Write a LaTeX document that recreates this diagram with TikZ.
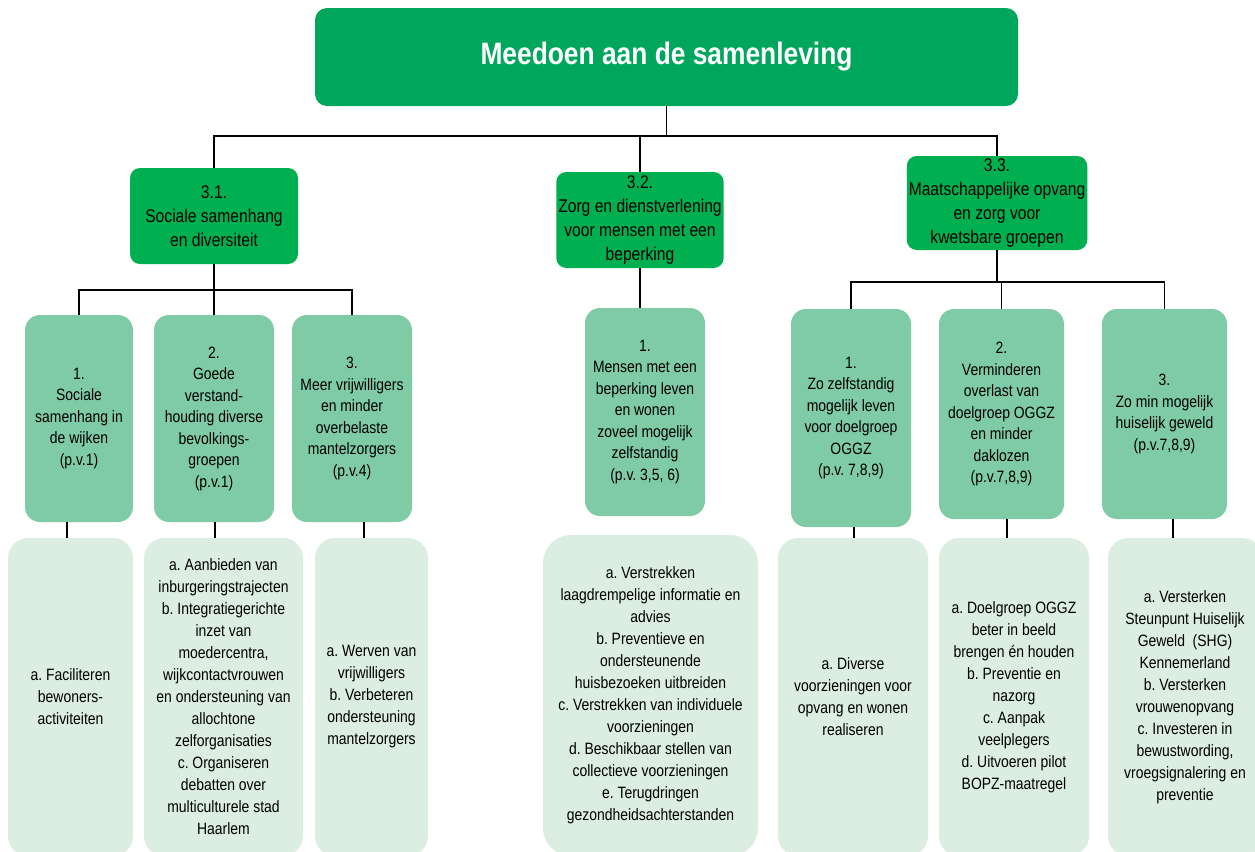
\documentclass[tikz,border=0pt]{standalone}
\usepackage{fontspec}
\setmainfont{Liberation Sans}[FakeStretch=0.85]
\frenchspacing
\definecolor{topgreen}{RGB}{0,166,92}
\definecolor{themegreen}{RGB}{0,176,80}
\definecolor{goalgreen}{RGB}{127,203,165}
\definecolor{actgreen}{RGB}{220,237,225}
\begin{document}
\begin{tikzpicture}[x=.5pt, y=-.5pt,
  topbox/.style={fill=topgreen, rounded corners=6pt, inner sep=0pt, text=white,
    font=\fontsize{15.5}{18}\selectfont\bfseries, minimum width=351.5pt, minimum height=49pt},
  themebox/.style={fill=themegreen, rounded corners=5pt, align=center, inner sep=1pt,
    font=\fontsize{9.2}{12}\selectfont},
  goalbox/.style={fill=goalgreen, rounded corners=7.5pt, align=center, inner sep=1pt,
    font=\fontsize{8.2}{10.75}\selectfont},
  actbox/.style={fill=actgreen, rounded corners=10pt, align=center, inner sep=1pt,
    font=\fontsize{8.2}{11}\selectfont, minimum height=159pt},
  link/.style={line width=.6pt}]
  \useasboundingbox (0,0) rectangle (1255,852);
  \clip (0,0) rectangle (1255,852);

  \node[topbox] (top) at (666.5,57) {Meedoen aan de samenleving};

  % thema's
  \node[themebox, minimum width=84pt, minimum height=48pt] (s31) at (214,216) {3.1.\\Sociale samenhang\\en diversiteit};
  \node[themebox, minimum width=83pt, minimum height=48pt] (s32) at (640,220) {3.2.\\Zorg en dienstverlening\\voor mensen met een\\beperking};
  \node[themebox, minimum width=90pt, minimum height=47pt] (s33) at (997,203) {3.3.\\Maatschappelijke opvang\\en zorg voor\\kwetsbare groepen};

  % doelen
  \node[goalbox, minimum width=54pt, minimum height=103.5pt] (sam) at (79,418.5) {1.\\Sociale\\samenhang in\\de wijken\\(p.v.1)};
  \node[goalbox, minimum width=60pt, minimum height=103.5pt] (vst) at (214,418.5) {2.\\Goede\\verstand-\\houding diverse\\bevolkings-\\groepen\\(p.v.1)};
  \node[goalbox, minimum width=60pt, minimum height=103.5pt] (vri) at (352,418.5) {3.\\Meer vrijwilligers\\en minder\\overbelaste\\mantelzorgers\\(p.v.4)};
  \node[goalbox, minimum width=60pt, minimum height=104pt] (zel) at (645,412) {1.\\Mensen met een\\beperking leven\\en wonen\\zoveel mogelijk\\zelfstandig\\(p.v. 3,5, 6)};
  \node[goalbox, minimum width=60pt, minimum height=109pt] (ogg) at (851,418) {1.\\Zo zelfstandig\\mogelijk leven\\voor doelgroep\\OGGZ\\(p.v. 7,8,9)};
  \node[goalbox, minimum width=62.5pt, minimum height=105pt] (ovl) at (1001.5,414) {2.\\Verminderen\\overlast van\\doelgroep OGGZ\\en minder\\daklozen\\(p.v.7,8,9)};
  \node[goalbox, minimum width=62.5pt, minimum height=105pt] (gew) at (1164.5,414) {3.\\Zo min mogelijk\\huiselijk geweld\\(p.v.7,8,9)};

  % acties
  \node[actbox, minimum width=62.5pt] (fac) at (70.5,697) {a. Faciliteren\\bewoners-\\activiteiten};
  \node[actbox, minimum width=79.5pt] (inb) at (223.5,697) {a. Aanbieden van\\inburgeringstrajecten\\b. Integratiegerichte\\inzet van\\moedercentra,\\wijkcontactvrouwen\\en ondersteuning van\\allochtone\\zelforganisaties\\c. Organiseren\\debatten over\\multiculturele stad\\Haarlem};
  \node[actbox, minimum width=56.5pt] (wrv) at (371.5,697) {a. Werven van\\vrijwilligers\\b. Verbeteren\\ondersteuning\\mantelzorgers};
  \node[actbox, minimum width=107.5pt, minimum height=160.5pt, rounded corners=14pt] (vzg) at (650.5,695.5) {a. Verstrekken\\laagdrempelige informatie en\\advies\\b. Preventieve en\\ondersteunende\\huisbezoeken uitbreiden\\c. Verstrekken van individuele\\voorzieningen\\d. Beschikbaar stellen van\\collectieve voorzieningen\\e. Terugdringen\\gezondheidsachterstanden};
  \node[actbox, minimum width=75pt] (dvs) at (853,697) {a. Diverse\\voorzieningen voor\\opvang en wonen\\realiseren};
  \node[actbox, minimum width=75pt] (dgr) at (1014,697) {a. Doelgroep OGGZ\\beter in beeld\\brengen én houden\\b. Preventie en\\nazorg\\c. Aanpak\\veelplegers\\d. Uitvoeren pilot\\BOPZ-maatregel};
  \node[actbox, minimum width=77pt] (shg) at (1185,697) {a. Versterken\\Steunpunt Huiselijk\\Geweld~ (SHG)\\Kennemerland\\b. Versterken\\vrouwenopvang\\c. Investeren in\\bewustwording,\\vroegsignalering en\\preventie};

  % verbindingen
  \coordinate (bus) at (0,136);
  \coordinate (bus1) at (0,290);
  \coordinate (bus3) at (0,282);
  \draw[link] (top.south) -- (top.south |- bus);
  \draw[link] (s31.north) -- (s31.north |- bus) -- (s33.north |- bus) -- (s33.north);
  \draw[link] (s32.north) -- (s32.north |- bus);

  \draw[link] (s31.south) -- (s31.south |- bus1);
  \draw[link] (sam.north) -- (sam.north |- bus1) -- (vri.north |- bus1) -- (vri.north);
  \draw[link] (vst.north) -- (vst.north |- bus1);

  \draw[link] (s32.south) -- (s32.south |- zel.north);

  \draw[link] (s33.south) -- (s33.south |- bus3);
  \draw[link] (ogg.north) -- (ogg.north |- bus3) -- (gew.north |- bus3) -- (gew.north);
  \draw[link] (ovl.north) -- (ovl.north |- bus3);

  \draw[link] ([xshift=-6pt]sam.south) -- ([xshift=-6pt]sam.south |- fac.north);
  \draw[link] ([xshift=.5pt]vst.south) -- ([xshift=.5pt]vst.south |- inb.north);
  \draw[link] ([xshift=6pt]vri.south) -- ([xshift=6pt]vri.south |- wrv.north);
  \draw[link] ([xshift=1.5pt]ogg.south) -- ([xshift=1.5pt]ogg.south |- dvs.north);
  \draw[link] ([xshift=2.75pt]ovl.south) -- ([xshift=2.75pt]ovl.south |- dgr.north);
  \draw[link] ([xshift=4.25pt]gew.south) -- ([xshift=4.25pt]gew.south |- shg.north);
\end{tikzpicture}
\end{document}
